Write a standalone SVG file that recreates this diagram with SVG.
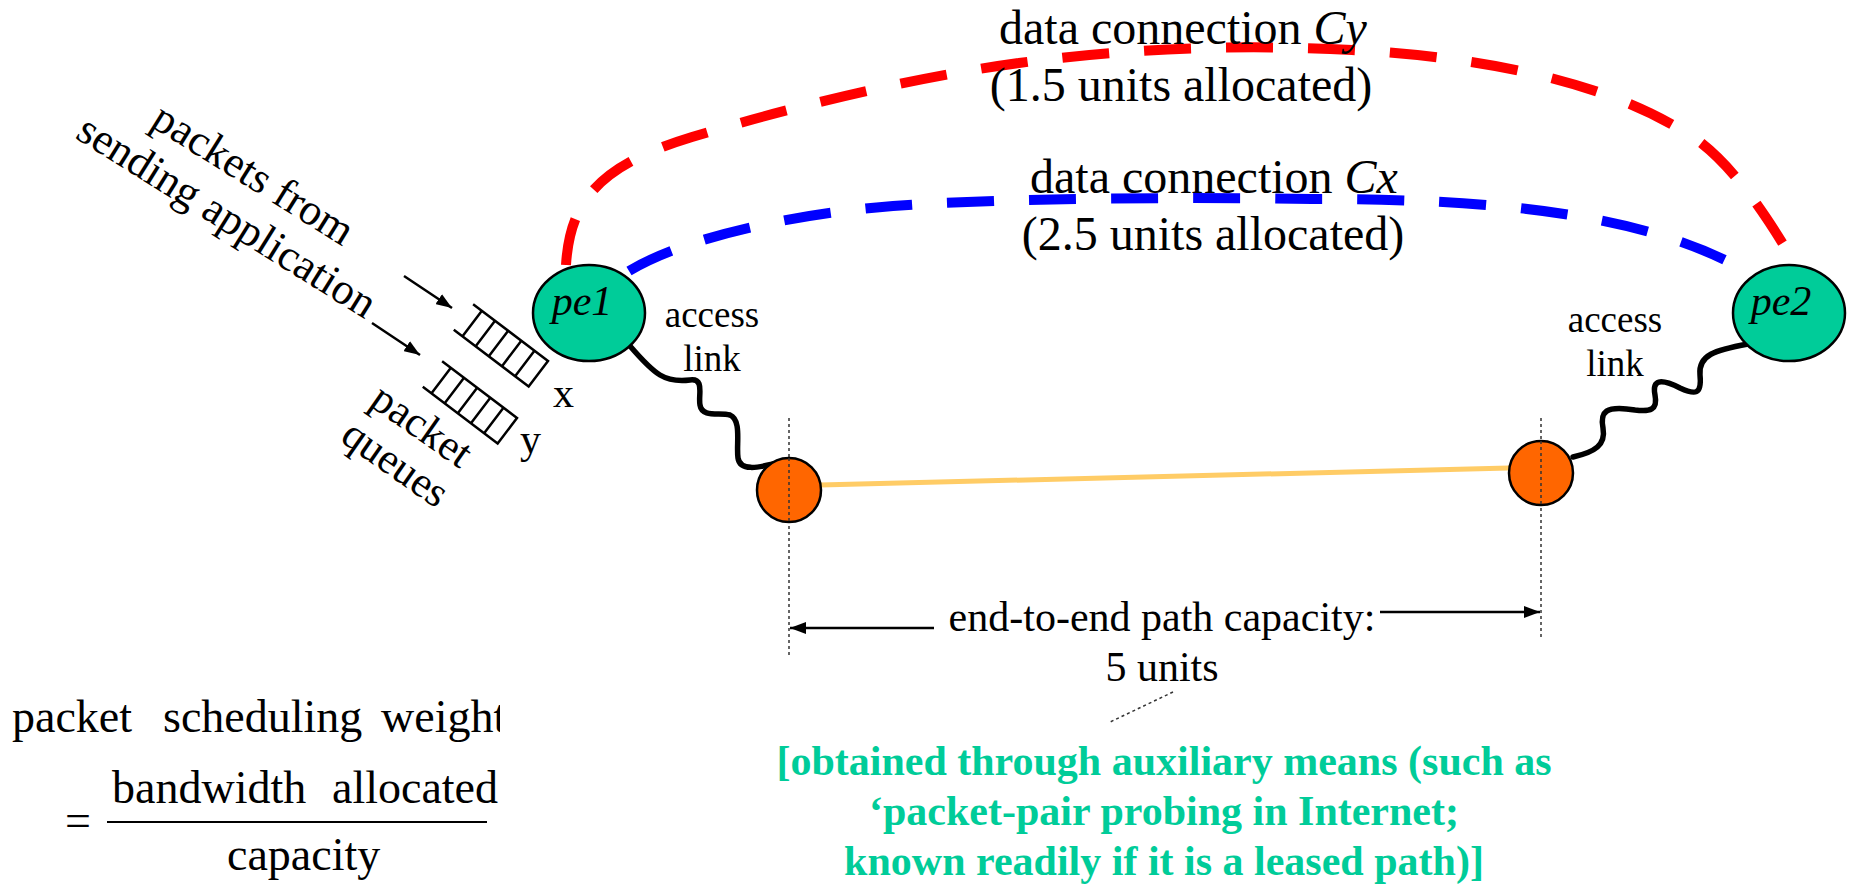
<svg xmlns="http://www.w3.org/2000/svg" width="1856" height="885" viewBox="0 0 1856 885">
  <defs>
    <style>
      text { font-family: "Liberation Serif", "Times New Roman", serif; fill: #000; }
      .conn { fill: none; stroke-width: 10; stroke-dasharray: 47 35; }
      .pe { fill: #00CC99; stroke: #000; stroke-width: 2.5; }
      .rt { fill: #FF6600; stroke: #000; stroke-width: 2.5; }
      .wave { fill: none; stroke: #000; stroke-width: 5.5; stroke-linecap: round; }
      .guide { stroke: #333; stroke-width: 1.5; stroke-dasharray: 3 3; fill: none; }
      .arrow { stroke: #000; stroke-width: 2.5; fill: none; }
      .q { stroke: #000; stroke-width: 2.5; fill: none; }
      .note { font-weight: bold; fill: #00CC99; font-size: 42px; }
    </style>
    <marker id="head" viewBox="0 0 16 12" refX="16" refY="6" markerWidth="16" markerHeight="12" markerUnits="userSpaceOnUse" orient="auto">
      <path d="M0,0 L16,6 L0,12 Z" fill="#000"/>
    </marker>
    <clipPath id="formulaClip">
      <rect x="0" y="650" width="500" height="235"/>
    </clipPath>
  </defs>

  <!-- connectors -->
  <g id="connectors">
    <!-- data connection Cy -->
    <path class="conn" stroke="#FF0000" d="M566,265 C570,200 600,165 692,137 C784,109 909,78 1019,63 C1129,48 1242,44 1352,50 C1462,56 1588,75 1678,128 C1732,155 1776,233 1796,265"/>
    <!-- data connection Cx -->
    <path class="conn" stroke="#0000FF" d="M629,271 C689,235 803,213 893,206 C1000,198 1200,197 1312,199 C1480,199 1640,210 1748,272"/>
    <!-- access links -->
    <path class="wave" d="M630,346 C655,375 665,383 690,380 C705,378 698,395 700,405 C702,418 720,412 730,415 C742,420 736,445 738,458 C740,472 760,467 773,464"/>
    <path class="wave" d="M1748,344 C1715,350 1698,355 1700,375 C1702,395 1695,395 1680,388 C1660,378 1652,380 1655,395 C1658,410 1650,412 1635,410 C1605,405 1600,412 1603,428 C1606,445 1595,452 1573,457"/>
    <!-- path between routers -->
    <line x1="820" y1="485" x2="1509" y2="468" stroke="#FFCC66" stroke-width="5"/>
    <!-- packet inflow arrows -->
    <line class="arrow" x1="404" y1="276" x2="452" y2="308" marker-end="url(#head)"/>
    <line class="arrow" x1="372" y1="323" x2="420" y2="355" marker-end="url(#head)"/>
  </g>

  <!-- capacity dimension -->
  <g id="capacity">
    <line class="guide" x1="789" y1="418" x2="789" y2="657"/>
    <line class="guide" x1="1541" y1="418" x2="1541" y2="640"/>
    <line class="arrow" x1="934" y1="628" x2="790" y2="628" marker-end="url(#head)"/>
    <line class="arrow" x1="1380" y1="612" x2="1540" y2="612" marker-end="url(#head)"/>
    <text x="1162" y="631" font-size="42" text-anchor="middle">end-to-end path capacity:</text>
    <text x="1162" y="681" font-size="42" text-anchor="middle">5 units</text>
    <line class="guide" x1="1173" y1="692" x2="1108" y2="723" stroke-dasharray="2 2"/>
  </g>

  <!-- edge routers -->
  <g id="pe1">
    <ellipse class="pe" cx="589" cy="313" rx="56" ry="48"/>
    <text x="582" y="315" font-size="42" font-style="italic" text-anchor="middle">pe1</text>
  </g>
  <g id="pe2">
    <ellipse class="pe" cx="1789" cy="313" rx="56" ry="48"/>
    <text x="1781" y="315" font-size="42" font-style="italic" text-anchor="middle">pe2</text>
  </g>
  <g id="router-left">
    <circle class="rt" cx="789" cy="490" r="32"/>
    <line class="guide" x1="789" y1="458" x2="789" y2="522"/>
  </g>
  <g id="router-right">
    <circle class="rt" cx="1541" cy="473" r="32"/>
    <line class="guide" x1="1541" y1="441" x2="1541" y2="505"/>
  </g>

  <!-- packet queues -->
  <g id="queue-x" transform="translate(548,361) rotate(37.2)">
    <path class="q" d="M-94,0 L0,0 L0,32 L-94,32"/>
    <path class="q" d="M-83,0 V32 M-66.5,0 V32 M-50,0 V32 M-33.5,0 V32 M-17,0 V32"/>
  </g>
  <g id="queue-y" transform="translate(517,418) rotate(37.2)">
    <path class="q" d="M-94,0 L0,0 L0,32 L-94,32"/>
    <path class="q" d="M-83,0 V32 M-66.5,0 V32 M-50,0 V32 M-33.5,0 V32 M-17,0 V32"/>
  </g>

  <!-- labels -->
  <g id="labels">
    <text x="1183" y="44" font-size="48" text-anchor="middle">data connection <tspan font-style="italic">Cy</tspan></text>
    <text x="1181" y="101" font-size="48" text-anchor="middle">(1.5 units allocated)</text>
    <text x="1214" y="193" font-size="48" text-anchor="middle">data connection <tspan font-style="italic">Cx</tspan></text>
    <text x="1213" y="250" font-size="48" text-anchor="middle">(2.5 units allocated)</text>

    <text x="712" y="327" font-size="37" text-anchor="middle">access</text>
    <text x="712" y="371" font-size="37" text-anchor="middle">link</text>
    <text x="1615" y="332" font-size="37" text-anchor="middle">access</text>
    <text x="1615" y="376" font-size="37" text-anchor="middle">link</text>

    <text x="553" y="407" font-size="42">x</text>
    <text x="520" y="453" font-size="42">y</text>

    <g transform="translate(246,186) rotate(32)">
      <text x="0" y="0" font-size="44" text-anchor="middle">packets from</text>
      <text x="0" y="50" font-size="44" text-anchor="middle">sending application</text>
    </g>
    <g transform="translate(414,437) rotate(35)">
      <text x="0" y="0" font-size="43" text-anchor="middle">packet</text>
      <text x="0" y="46" font-size="43" text-anchor="middle">queues</text>
    </g>
  </g>

  <!-- note on capacity source -->
  <g id="note">
    <text class="note" x="1164" y="775" text-anchor="middle">[obtained through auxiliary means (such as</text>
    <text class="note" x="1164" y="825" text-anchor="middle">‘packet-pair probing in Internet;</text>
    <text class="note" x="1164" y="875" text-anchor="middle">known readily if it is a leased path)]</text>
  </g>

  <!-- weight formula, trimmed at its right edge -->
  <g id="formula" clip-path="url(#formulaClip)" font-size="46">
    <text x="12" y="732">packet</text>
    <text x="163" y="732">scheduling</text>
    <text x="381" y="732">weight</text>
    <text x="65" y="836">=</text>
    <text x="112" y="803">bandwidth</text>
    <text x="332" y="803">allocated</text>
    <line x1="107" y1="822" x2="487" y2="822" stroke="#000" stroke-width="2"/>
    <text x="227" y="870">capacity</text>
  </g>
</svg>
